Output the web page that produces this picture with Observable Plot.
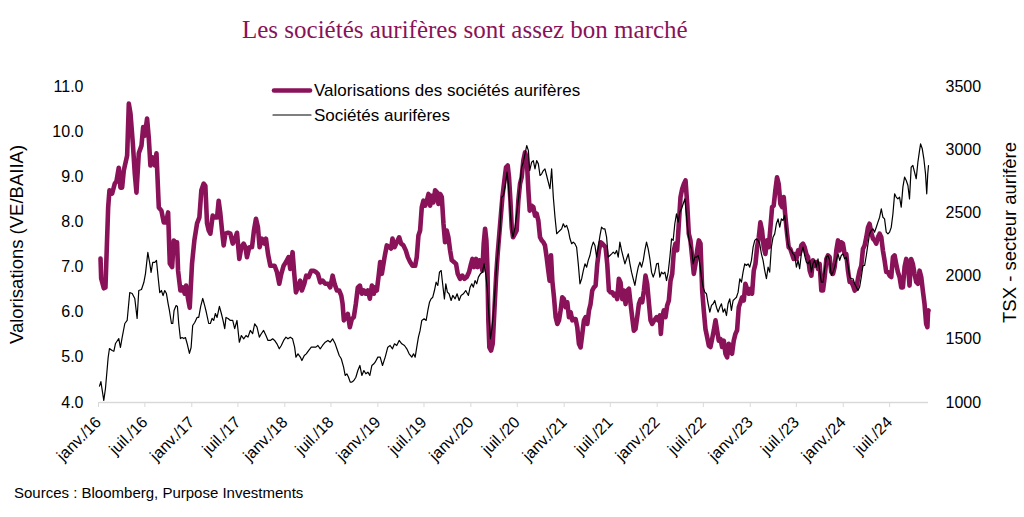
<!DOCTYPE html>
<html><head><meta charset="utf-8">
<script src="https://cdn.jsdelivr.net/npm/d3@7"></script>
<script src="https://cdn.jsdelivr.net/npm/@observablehq/plot@0.6"></script>
<style>
html,body{margin:0;padding:0;background:#fff;}
#wrap{position:relative;width:1024px;height:517px;overflow:hidden;background:#fff;}
#overlay{position:absolute;left:0;top:0;pointer-events:none;}
</style></head><body>
<div id="wrap"></div>
<script>
// ---- Text ----
const chartTitle = "Les sociétés aurifères sont assez bon marché";
const seriesNames = ["Valorisations des sociétés aurifères", "Sociétés aurifères"];
const leftAxisTitle = "Valorisations (VE/BAIIA)";
const rightAxisTitle = "TSX - secteur aurifère";
const sourceText = "Sources : Bloomberg, Purpose Investments";

// ---- Axes ----
const leftTicks = [4, 5, 6, 7, 8, 9, 10, 11];
const rightTicks = [1000, 1500, 2000, 2500, 3000, 3500];
const xTickLabels = ["janv./16","juil./16","janv./17","juil./17","janv./18","juil./18","janv./19","juil./19","janv./20","juil./20","janv./21","juil./21","janv./22","juil./22","janv./23","juil./23","janv./24","juil./24"];
const startYear = 2016;
const endOffsetYears = 8.905; // last observation, in years after 1 Jan 2016

// ---- Data: [years since 1 Jan 2016, value] ----
// Gold miners valuation (EV/EBITDA), left axis
const valuation = [
[0.011,7.19],[0.018,6.75],[0.046,6.53],[0.064,6.55],[0.093,8.32],[0.107,8.70],[0.136,8.63],[0.164,8.85],[0.182,8.90],[0.207,9.20],[0.225,8.76],[0.243,8.76],[0.261,9.14],[0.297,9.47],[0.315,10.62],[0.333,10.40],[0.358,9.74],[0.379,9.07],[0.397,8.65],[0.422,9.52],[0.451,9.69],[0.469,10.10],[0.486,9.91],[0.511,10.29],[0.529,9.87],[0.547,9.25],[0.572,9.43],[0.594,9.25],[0.612,9.52],[0.637,8.32],[0.665,8.25],[0.690,7.99],[0.715,7.99],[0.737,8.21],[0.755,7.08],[0.780,7.00],[0.798,7.59],[0.815,7.55],[0.833,7.55],[0.844,6.92],[0.869,6.48],[0.894,6.55],[0.916,6.41],[0.930,6.59],[0.951,6.30],[0.969,6.10],[0.994,7.08],[1.019,7.59],[1.048,7.97],[1.073,8.10],[1.094,8.70],[1.119,8.85],[1.137,8.80],[1.155,7.97],[1.173,7.81],[1.191,7.74],[1.216,8.14],[1.237,8.10],[1.263,8.10],[1.280,8.47],[1.298,8.19],[1.316,7.81],[1.334,7.48],[1.352,7.74],[1.381,7.76],[1.406,7.74],[1.431,7.52],[1.452,7.60],[1.477,7.76],
[1.502,7.18],[1.524,7.44],[1.549,7.52],[1.567,7.44],[1.584,7.22],[1.609,7.44],[1.638,7.44],[1.659,7.81],[1.681,8.07],[1.702,7.88],[1.720,7.44],[1.745,7.63],[1.774,7.52],[1.788,7.63],[1.810,7.29],[1.835,7.03],[1.860,7.03],[1.881,7.03],[1.906,6.89],[1.931,6.63],[1.953,6.85],[1.978,7.03],[2.003,7.11],[2.031,7.22],[2.049,6.96],[2.074,7.33],[2.092,6.85],[2.110,6.44],[2.131,6.55],[2.156,6.70],[2.174,6.48],[2.200,6.63],[2.221,6.81],[2.246,6.78],[2.275,6.92],[2.300,6.92],[2.325,6.89],[2.346,6.85],[2.371,6.66],[2.396,6.70],[2.425,6.63],[2.454,6.63],[2.479,6.55],[2.504,6.81],[2.525,6.63],[2.550,6.48],[2.575,6.48],[2.597,6.37],[2.611,6.19],[2.625,5.82],[2.647,5.89],[2.668,5.96],[2.689,5.67],[2.711,5.85],[2.732,5.89],[2.754,6.19],[2.775,6.55],[2.797,6.59],[2.818,6.41],[2.840,6.48],[2.861,6.41],[2.883,6.48],[2.904,6.30],[2.926,6.59],[2.947,6.41],
[2.961,6.55],[2.979,6.48],[2.997,6.78],[3.015,7.11],[3.033,6.85],[3.062,7.22],[3.086,7.48],[3.112,7.44],[3.133,7.41],[3.147,7.63],[3.169,7.44],[3.193,7.55],[3.219,7.66],[3.240,7.52],[3.265,7.48],[3.290,7.37],[3.312,7.22],[3.337,7.11],[3.362,7.03],[3.391,7.03],[3.408,7.22],[3.426,7.70],[3.444,7.81],[3.462,8.33],[3.480,8.47],[3.498,8.36],[3.516,8.47],[3.534,8.62],[3.552,8.36],[3.569,8.58],[3.587,8.43],[3.605,8.70],[3.623,8.66],[3.641,8.40],[3.659,8.62],[3.677,8.55],[3.695,7.96],[3.712,7.55],[3.730,7.81],[3.748,7.66],[3.766,7.37],[3.784,7.15],[3.809,7.11],[3.830,7.07],[3.848,6.85],[3.873,6.74],[3.898,6.81],[3.920,6.74],[3.945,6.78],[3.970,6.89],[3.991,7.07],[4.006,7.18],[4.024,7.00],[4.045,7.18],[4.063,7.00],[4.081,7.15],[4.099,7.11],[4.113,6.92],[4.127,7.52],[4.142,7.85],[4.156,7.59],[4.167,7.00],[4.177,5.82],[4.188,5.22],[4.206,5.15],[4.224,5.30],[4.242,6.04],[4.260,6.78],[4.277,7.29],[4.295,7.74],[4.313,8.18],[4.328,8.55],[4.349,8.92],[4.367,9.21],[4.385,9.25],[4.399,8.99],[4.414,8.47],[4.428,7.88],[4.442,7.66],
[4.464,7.74],[4.481,7.81],[4.499,8.47],[4.517,8.84],[4.535,8.99],[4.553,9.36],[4.571,9.54],[4.589,9.43],[4.607,8.70],[4.621,8.25],[4.642,8.36],[4.660,8.33],[4.678,8.14],[4.696,8.18],[4.714,8.03],[4.732,7.66],[4.750,7.59],[4.768,7.55],[4.785,7.48],[4.803,7.22],[4.821,6.92],[4.835,6.70],[4.850,7.26],[4.864,6.70],[4.882,6.33],[4.900,5.89],[4.918,5.74],[4.936,5.82],[4.953,6.04],[4.971,6.33],[4.989,6.29],[5.007,6.11],[5.025,6.22],[5.043,5.89],[5.061,6.00],[5.079,5.82],[5.097,5.85],[5.114,5.85],[5.132,5.67],[5.150,5.30],[5.168,5.22],[5.186,5.52],[5.204,5.82],[5.222,5.89],[5.240,5.74],[5.258,6.04],[5.275,6.18],[5.293,6.48],[5.311,6.55],[5.329,6.59],[5.347,7.07],[5.365,7.37],[5.383,7.55],[5.401,7.52],[5.418,7.48],[5.436,7.44],[5.454,7.07],[5.472,6.48],[5.490,6.44],[5.508,6.44],[5.526,6.37],[5.544,6.41],[5.561,6.29],[5.579,6.74],[5.597,6.66],[5.615,6.29],[5.633,6.48],[5.651,6.18],[5.669,6.48],[5.687,6.52],[5.705,6.18],[5.722,5.89],[5.740,5.59],[5.758,5.63],[5.776,5.89],[5.794,6.18],[5.812,6.29],[5.830,6.22],[5.848,6.48],[5.865,6.81],[5.883,6.63],[5.901,6.22],[5.919,5.82],[5.937,5.74],[5.959,5.82],
[5.984,5.89],[6.002,5.82],[6.019,5.93],[6.030,5.52],[6.044,5.89],[6.062,6.04],[6.080,5.89],[6.098,6.15],[6.116,6.26],[6.134,6.70],[6.152,6.85],[6.170,7.37],[6.187,7.52],[6.205,7.37],[6.223,7.96],[6.241,8.55],[6.259,8.73],[6.277,8.84],[6.295,8.92],[6.313,8.40],[6.330,7.74],[6.348,7.59],[6.366,7.22],[6.384,6.85],[6.402,7.07],[6.420,7.37],[6.438,7.59],[6.456,7.52],[6.474,6.48],[6.491,6.04],[6.509,5.63],[6.527,5.45],[6.545,5.26],[6.563,5.23],[6.581,5.41],[6.599,5.60],[6.617,5.82],[6.634,5.60],[6.652,5.37],[6.670,5.41],[6.688,5.23],[6.706,5.37],[6.724,5.08],[6.742,5.00],[6.760,5.30],[6.778,5.15],[6.795,5.08],[6.813,5.37],[6.831,5.52],[6.849,5.60],[6.867,6.11],[6.885,6.22],[6.903,6.33],[6.921,6.26],[6.938,6.63],[6.956,6.52],[6.974,6.41],[6.992,6.52],[7.010,6.41],[7.028,6.92],[7.046,7.07],[7.064,7.44],[7.082,7.66],[7.099,7.99],[7.117,7.81],[7.135,7.44],[7.153,7.29],[7.171,7.59],[7.189,7.44],[7.207,7.88],[7.225,8.33],[7.242,8.36],[7.260,8.70],[7.278,8.99],[7.296,8.84],[7.314,8.40],[7.332,8.33],[7.350,8.55],[7.368,8.11],[7.386,7.74],[7.403,7.44],[7.421,7.40],[7.439,7.29],[7.457,7.18],
[7.468,7.29],[7.486,7.18],[7.504,7.37],[7.521,7.29],[7.539,7.48],[7.557,7.52],[7.575,7.44],[7.593,7.29],[7.611,7.22],[7.629,6.92],[7.647,6.81],[7.664,7.15],[7.682,7.03],[7.700,7.11],[7.718,6.96],[7.736,7.07],[7.754,6.48],[7.772,6.48],[7.790,6.78],[7.808,7.18],[7.825,7.26],[7.843,7.22],[7.861,6.89],[7.879,6.85],[7.897,7.00],[7.915,7.37],[7.933,7.59],[7.951,7.37],[7.968,7.55],[7.986,7.52],[8.004,7.29],[8.022,7.29],[8.040,6.92],[8.058,6.67],[8.076,6.67],[8.094,6.59],[8.112,6.48],[8.129,6.52],[8.147,6.74],[8.165,6.92],[8.183,7.03],[8.201,7.40],[8.219,7.48],[8.237,7.66],[8.255,7.88],[8.272,7.96],[8.290,7.77],[8.308,7.63],[8.326,7.59],[8.344,7.52],[8.362,7.66],[8.380,7.74],[8.398,7.66],[8.415,7.37],[8.433,7.15],[8.451,6.89],[8.469,6.89],[8.487,6.81],[8.505,6.78],[8.523,7.22],[8.541,7.26],[8.558,7.07],[8.576,6.89],[8.594,6.78],[8.612,6.55],[8.630,6.55],[8.648,7.00],[8.666,7.18],[8.684,7.07],[8.701,6.59],[8.719,7.18],[8.737,7.07],[8.755,6.85],[8.773,6.67],[8.791,6.63],[8.809,6.92],[8.827,6.78],[8.844,6.48],[8.862,6.19],[8.880,5.74],[8.893,5.67],[8.900,6.00],[8.905,6.04]
];

// S&P/TSX gold sector index, right axis
const tsxGold = [
[0.000,1130],[0.015,1165],[0.046,1016],[0.064,1111],[0.093,1356],[0.107,1427],[0.136,1411],[0.154,1405],[0.172,1467],[0.207,1506],[0.225,1435],[0.243,1514],[0.272,1625],[0.297,1649],[0.325,1870],[0.351,1862],[0.379,1823],[0.404,1665],[0.422,1886],[0.451,1894],[0.476,1949],[0.494,2020],[0.519,2187],[0.540,2100],[0.554,2029],[0.572,2108],[0.594,2108],[0.612,2124],[0.630,1989],[0.647,1870],[0.665,1886],[0.683,1846],[0.701,1886],[0.719,1862],[0.737,1783],[0.751,1728],[0.773,1625],[0.787,1625],[0.801,1728],[0.823,1767],[0.837,1760],[0.851,1625],[0.869,1506],[0.887,1514],[0.905,1506],[0.923,1514],[0.941,1467],[0.966,1388],[0.984,1435],[1.001,1609],[1.023,1633],[1.048,1673],[1.066,1673],[1.087,1760],[1.109,1823],[1.130,1767],[1.148,1712],[1.173,1625],[1.191,1625],[1.209,1665],[1.227,1649],[1.245,1704],[1.263,1673],[1.288,1760],[1.309,1704],[1.327,1649],[1.345,1585],[1.359,1673],[1.381,1665],[1.406,1649],[1.431,1649],[1.452,1585],[1.477,1649],
[1.502,1477],[1.524,1530],[1.549,1504],[1.574,1530],[1.595,1517],[1.620,1570],[1.645,1544],[1.667,1623],[1.692,1596],[1.717,1517],[1.738,1544],[1.763,1570],[1.788,1530],[1.810,1491],[1.835,1491],[1.860,1504],[1.881,1491],[1.906,1464],[1.931,1425],[1.953,1451],[1.978,1491],[2.003,1517],[2.024,1504],[2.049,1517],[2.074,1504],[2.096,1438],[2.110,1359],[2.132,1385],[2.157,1359],[2.174,1332],[2.200,1372],[2.221,1385],[2.246,1411],[2.275,1438],[2.300,1438],[2.325,1438],[2.346,1451],[2.371,1425],[2.396,1451],[2.425,1477],[2.454,1491],[2.479,1477],[2.504,1504],[2.532,1464],[2.550,1425],[2.575,1372],[2.597,1346],[2.622,1280],[2.639,1214],[2.657,1227],[2.675,1200],[2.693,1161],[2.711,1161],[2.732,1174],[2.754,1200],[2.775,1253],[2.797,1293],[2.818,1214],[2.840,1253],[2.861,1227],[2.883,1240],[2.904,1214],[2.926,1293],[2.947,1306],
[2.961,1319],[2.990,1359],[3.015,1359],[3.040,1293],[3.069,1359],[3.097,1438],[3.122,1451],[3.147,1425],[3.169,1464],[3.193,1451],[3.219,1491],[3.247,1464],[3.276,1451],[3.301,1425],[3.326,1385],[3.355,1359],[3.373,1385],[3.391,1359],[3.408,1438],[3.426,1517],[3.444,1570],[3.462,1649],[3.487,1662],[3.509,1649],[3.527,1728],[3.545,1794],[3.562,1820],[3.580,1833],[3.598,1886],[3.616,1952],[3.634,1926],[3.652,2031],[3.670,2044],[3.688,1926],[3.705,1820],[3.720,1939],[3.737,1873],[3.755,1860],[3.777,1807],[3.795,1847],[3.820,1820],[3.841,1860],[3.863,1807],[3.884,1847],[3.909,1860],[3.934,1886],[3.963,1847],[3.981,1912],[3.999,1939],[4.016,1912],[4.034,1965],[4.052,1939],[4.070,1992],[4.091,2018],[4.113,2031],[4.131,2097],[4.149,2018],[4.167,1886],[4.184,1675],[4.199,1504],[4.213,1570],[4.231,1702],[4.249,1886],[4.267,2097],[4.285,2229],[4.302,2361],[4.320,2624],[4.338,2637],[4.356,2703],[4.378,2822],[4.392,2729],[4.410,2545],[4.428,2361],[4.442,2308],
[4.464,2387],[4.481,2493],[4.499,2598],[4.517,2730],[4.535,2862],[4.553,2901],[4.571,2967],[4.589,3033],[4.607,2993],[4.621,2835],[4.642,2901],[4.660,2914],[4.678,2848],[4.696,2914],[4.714,2888],[4.732,2796],[4.750,2809],[4.768,2835],[4.785,2848],[4.803,2796],[4.821,2743],[4.839,2691],[4.857,2848],[4.875,2624],[4.893,2466],[4.911,2335],[4.928,2348],[4.946,2361],[4.964,2374],[4.982,2414],[5.000,2387],[5.018,2401],[5.036,2361],[5.054,2295],[5.072,2256],[5.089,2269],[5.107,2256],[5.125,2229],[5.143,2097],[5.161,1939],[5.179,1978],[5.197,2044],[5.215,2097],[5.233,2071],[5.250,2124],[5.268,2163],[5.286,2229],[5.304,2269],[5.322,2242],[5.340,2150],[5.358,2229],[5.376,2321],[5.393,2387],[5.411,2374],[5.429,2374],[5.447,2308],[5.465,2150],[5.483,2163],[5.501,2176],[5.519,2190],[5.537,2176],[5.555,2203],[5.572,2150],[5.590,2269],[5.608,2203],[5.626,2150],[5.644,2097],[5.662,2137],[5.680,2176],[5.698,2097],[5.715,2031],[5.733,1978],[5.751,1926],[5.769,2005],[5.787,2071],[5.805,2110],[5.823,2071],[5.841,2124],[5.858,2203],[5.876,2269],[5.894,2216],[5.912,2137],[5.930,2031],[5.948,1992],
[5.966,2031],[5.984,2097],[6.002,2102],[6.019,1992],[6.037,2031],[6.055,2018],[6.073,2031],[6.091,1965],[6.109,2031],[6.127,2150],[6.145,2295],[6.162,2282],[6.180,2414],[6.198,2493],[6.216,2427],[6.234,2506],[6.252,2532],[6.270,2572],[6.288,2611],[6.305,2480],[6.323,2334],[6.341,2255],[6.359,2216],[6.377,2097],[6.395,2150],[6.413,2150],[6.431,2163],[6.449,2097],[6.466,1992],[6.484,1913],[6.502,1873],[6.520,1860],[6.538,1781],[6.556,1715],[6.574,1768],[6.592,1781],[6.609,1807],[6.627,1754],[6.645,1715],[6.663,1754],[6.681,1781],[6.699,1715],[6.717,1741],[6.735,1688],[6.752,1781],[6.770,1820],[6.788,1728],[6.806,1807],[6.824,1820],[6.842,1833],[6.860,1873],[6.878,1979],[6.896,1952],[6.913,2031],[6.931,2097],[6.949,2084],[6.967,2097],[6.985,2071],[7.003,2124],[7.021,2229],[7.039,2282],[7.056,2295],[7.074,2282],[7.092,2255],[7.110,2176],[7.128,2124],[7.146,2044],[7.164,1979],[7.182,2071],[7.199,2031],[7.217,2229],[7.235,2308],[7.253,2334],[7.271,2414],[7.289,2453],[7.307,2387],[7.325,2453],[7.342,2440],[7.360,2480],[7.378,2361],[7.396,2255],[7.414,2216],[7.432,2203],[7.450,2176],
[7.468,2163],[7.486,2071],[7.504,2124],[7.521,2058],[7.539,2176],[7.557,2229],[7.575,2163],[7.593,2110],[7.611,2097],[7.629,2124],[7.647,2031],[7.664,2097],[7.682,2124],[7.700,2071],[7.718,2137],[7.736,2044],[7.754,1952],[7.772,1952],[7.790,2058],[7.808,2150],[7.825,2163],[7.843,2124],[7.861,2005],[7.879,2031],[7.897,2071],[7.915,2124],[7.933,2176],[7.951,2124],[7.968,2163],[7.986,2176],[8.004,2137],[8.022,2150],[8.040,2084],[8.058,1992],[8.076,1979],[8.094,1979],[8.112,1939],[8.129,1913],[8.147,1886],[8.165,1913],[8.183,1992],[8.201,2084],[8.219,2084],[8.237,2163],[8.255,2255],[8.272,2334],[8.290,2361],[8.308,2374],[8.326,2348],[8.344,2387],[8.362,2427],[8.380,2466],[8.398,2532],[8.415,2466],[8.433,2453],[8.451,2348],[8.469,2334],[8.487,2348],[8.505,2387],[8.523,2493],[8.541,2651],[8.558,2625],[8.576,2611],[8.594,2625],[8.612,2545],[8.630,2704],[8.648,2783],[8.666,2756],[8.684,2717],[8.701,2611],[8.719,2862],[8.737,2875],[8.755,2822],[8.773,2770],[8.791,2901],[8.809,2994],[8.820,3046],[8.838,3007],[8.855,2928],[8.873,2809],[8.886,2651],[8.897,2809],[8.905,2875]
];

// ---- Styles ----
const purple = "#8a1259";
const textFont = "'Liberation Sans', Arial, sans-serif";

// ---- Helpers ----
const t0 = Date.UTC(startYear, 0, 1);
const toDate = t => new Date(t0 + t * 365.25 * 864e5);
const leftMin = leftTicks[0], leftMax = leftTicks[leftTicks.length - 1];
const rightMin = rightTicks[0], rightMax = rightTicks[rightTicks.length - 1];
const rightToLeft = v => leftMin + (v - rightMin) * (leftMax - leftMin) / (rightMax - rightMin);
const leftToRight = v => rightMin + (v - leftMin) * (rightMax - rightMin) / (leftMax - leftMin);

const valData = valuation.map(([t, v]) => ({date: toDate(t), v}));
const tsxData = tsxGold.map(([t, v]) => ({date: toDate(t), v: rightToLeft(v)}));

const xTickDates = d3.utcMonth.every(6).range(new Date(t0), new Date(Date.UTC(2024, 7, 1)));
const labelByTime = new Map(xTickDates.map((d, i) => [+d, xTickLabels[i]]));

const chart = Plot.plot({
  width: 1024,
  height: 517,
  marginLeft: 99,
  marginRight: 96,
  marginTop: 86,
  marginBottom: 115,
  style: {fontFamily: textFont, fontSize: "16px", background: "#fff", color: "#000", overflow: "visible"},
  x: {type: "utc", domain: [toDate(0), toDate(endOffsetYears)]},
  y: {domain: [leftMin, leftMax]},
  marks: [
    Plot.ruleY([leftMin], {stroke: "#d9d9d9", strokeWidth: 1.3}),
    Plot.axisX(xTickDates, {
      tickFormat: d => labelByTime.get(+d),
      tickRotate: -45, tickSize: 5, tickPadding: 12, dx: -1,
      stroke: "#d9d9d9", fill: "#000", fontSize: 16, label: null
    }),
    Plot.axisY(leftTicks, {anchor: "left", tickSize: 0, tickPadding: 16, tickFormat: d3.format(".1f"), fontSize: 16, label: null}),
    Plot.axisY(rightTicks.map(rightToLeft), {anchor: "right", tickSize: 0, tickPadding: 17, tickFormat: d => d3.format(".0f")(leftToRight(d)), fontSize: 16, label: null}),
    Plot.text([leftAxisTitle], {frameAnchor: "left", textAnchor: "middle", lineAnchor: "middle", dx: -82, rotate: -90, fontSize: 18.5, fill: "#000"}),
    Plot.text([rightAxisTitle], {frameAnchor: "right", textAnchor: "middle", lineAnchor: "middle", dx: 82, dy: -12, rotate: -90, fontSize: 18.5, fill: "#000"}),
    Plot.line(valData, {x: "date", y: "v", stroke: purple, strokeWidth: 4.6, strokeLinejoin: "round", strokeLinecap: "round"}),
    Plot.line(tsxData, {x: "date", y: "v", stroke: "#000", strokeWidth: 1.2, strokeLinejoin: "round"})
  ]
});

const wrap = document.getElementById("wrap");
wrap.appendChild(chart);

// Title, legend, source
const ns = "http://www.w3.org/2000/svg";
const ov = document.createElementNS(ns, "svg");
ov.setAttribute("id", "overlay");
ov.setAttribute("width", 1024);
ov.setAttribute("height", 517);
function addText(str, x, y, attrs) {
  const el = document.createElementNS(ns, "text");
  el.setAttribute("x", x); el.setAttribute("y", y);
  for (const k in attrs) el.setAttribute(k, attrs[k]);
  el.textContent = str;
  ov.appendChild(el);
}
function addLine(x1, x2, y, stroke, w) {
  const el = document.createElementNS(ns, "line");
  el.setAttribute("x1", x1); el.setAttribute("x2", x2);
  el.setAttribute("y1", y); el.setAttribute("y2", y);
  el.setAttribute("stroke", stroke); el.setAttribute("stroke-width", w);
  el.setAttribute("stroke-linecap", "round");
  ov.appendChild(el);
}
addText(chartTitle, 242, 38, {"font-family": "'Liberation Serif', 'Times New Roman', serif", "font-size": 25, fill: purple});
addLine(274, 310, 90.5, purple, 4.6);
addText(seriesNames[0], 314, 96, {"font-family": textFont, "font-size": 17, fill: "#000"});
addLine(273, 311, 115, "#000", 1.2);
addText(seriesNames[1], 314, 121, {"font-family": textFont, "font-size": 17, fill: "#000"});
addText(sourceText, 14, 498, {"font-family": textFont, "font-size": 15, fill: "#000"});
wrap.appendChild(ov);
</script>
</body></html>
